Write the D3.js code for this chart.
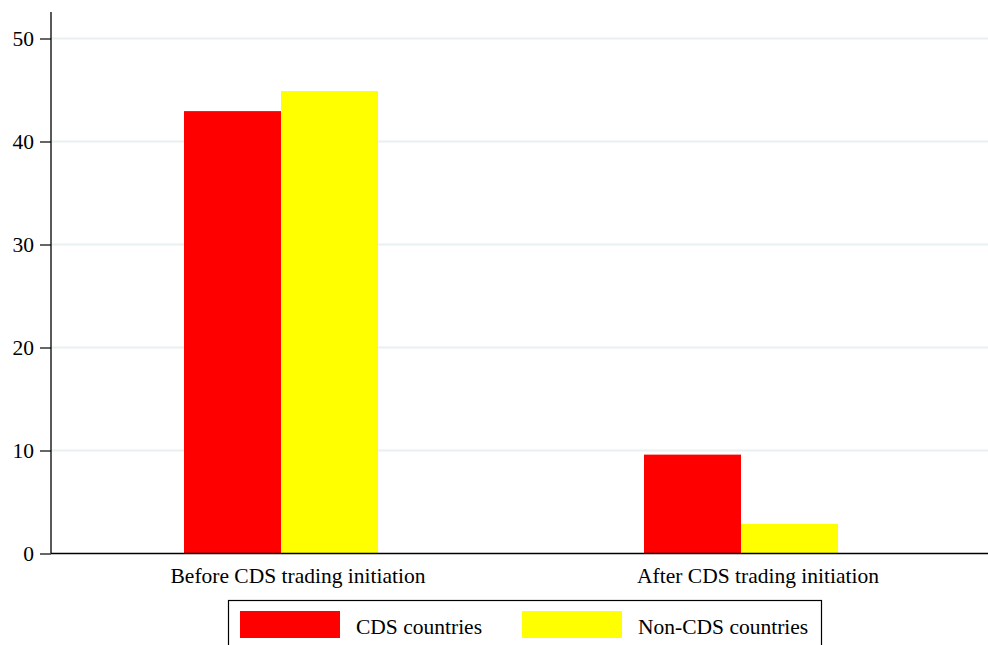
<!DOCTYPE html>
<html>
<head>
<meta charset="utf-8">
<script src="https://cdn.jsdelivr.net/npm/d3@7"></script>
<style>
  body { margin: 0; background: #fff; }
  text { font-family: "Liberation Serif", "Times New Roman", serif; fill: #000; }
</style>
</head>
<body>
<svg id="chart" width="988" height="645"></svg>
<script>
// data
const groups = ["Before CDS trading initiation", "After CDS trading initiation"];
const series = ["CDS countries", "Non-CDS countries"];
const cdsValues = [42.95, 9.6];
const nonCdsValues = [44.9, 2.88];
const yTicks = [0, 10, 20, 30, 40, 50];
const colors = ["#ff0000", "#ffff00"];

const svg = d3.select("svg#chart");
const width = +svg.attr("width");

const plotLeft = 51;
const plotTop = 12;
const plotBottom = 553.5;

const yScale = d3.scaleLinear().domain([0, 50]).range([plotBottom, 38.5]);

const xScale = d3.scaleBand().domain(groups).range([plotLeft, 971]).padding(0);
const xSub = d3
  .scaleBand()
  .domain(series)
  .range([0, xScale.bandwidth()])
  .paddingInner(0)
  .paddingOuter(1.371);

//gridlines
svg
  .append("g")
  .attr("class", "grid")
  .selectAll("line")
  .data(yTicks.filter((d) => d > 0))
  .join("line")
  .attr("x1", plotLeft)
  .attr("x2", width)
  .attr("y1", (d) => yScale(d))
  .attr("y2", (d) => yScale(d))
  .attr("stroke", "#e9f0f2")
  .attr("stroke-width", 2);

//bars
const rows = groups.map((g, i) => ({
  group: g,
  values: [cdsValues[i], nonCdsValues[i]],
}));

const barGroups = svg
  .append("g")
  .selectAll("g")
  .data(rows)
  .join("g")
  .attr("transform", (d) => `translate(${xScale(d.group)},0)`);

barGroups
  .selectAll("rect")
  .data((d) => d.values.map((v, j) => ({ key: series[j], value: v, color: colors[j] })))
  .join("rect")
  .attr("x", (d) => xSub(d.key))
  .attr("width", xSub.bandwidth())
  .attr("y", (d) => yScale(d.value))
  .attr("height", (d) => plotBottom - yScale(d.value))
  .attr("fill", (d) => d.color);

//y axis
const leftAxis = d3
  .axisLeft(yScale)
  .tickValues(yTicks)
  .tickSize(11)
  .tickPadding(6)
  .tickSizeOuter(0);

const yAxisG = svg
  .append("g")
  .attr("class", "y axis")
  .attr("transform", `translate(${plotLeft},0)`)
  .call(leftAxis);
yAxisG.select(".domain").remove();
yAxisG.selectAll(".tick line").attr("stroke", "#000").attr("stroke-width", 1.2);
yAxisG
  .selectAll(".tick text")
  .attr("font-size", "21.5px")
  .attr("font-family", "Liberation Serif, serif")
  .attr("dy", "0.34em");

svg
  .append("line")
  .attr("x1", plotLeft)
  .attr("x2", plotLeft)
  .attr("y1", plotTop)
  .attr("y2", plotBottom)
  .attr("stroke", "#000")
  .attr("stroke-width", 1.3);

//x axis line
svg
  .append("line")
  .attr("x1", plotLeft)
  .attr("x2", width)
  .attr("y1", plotBottom)
  .attr("y2", plotBottom)
  .attr("stroke", "#000")
  .attr("stroke-width", 1.3);

//category labels (Stata puts them a bit right of the bar centre)
svg
  .append("g")
  .selectAll("text")
  .data(groups)
  .join("text")
  .attr("x", (d) => xScale(d) + xScale.bandwidth() / 2 + 17)
  .attr("y", 583)
  .attr("text-anchor", "middle")
  .attr("font-size", "21.5px")
  .text((d) => d);

//legend
const legend = svg.append("g").attr("class", "legend");
legend
  .append("rect")
  .attr("x", 228.5)
  .attr("y", 600.5)
  .attr("width", 593)
  .attr("height", 60)
  .attr("fill", "#fff")
  .attr("stroke", "#000")
  .attr("stroke-width", 1.2);

const legendX = [240, 522];
const legendItems = legend
  .selectAll(".item")
  .data(series)
  .join("g")
  .attr("class", "item")
  .attr("transform", (d, i) => `translate(${legendX[i]},611)`);

legendItems
  .append("rect")
  .attr("width", 100)
  .attr("height", 27)
  .attr("fill", (d, i) => colors[i]);

legendItems
  .append("text")
  .attr("x", 116)
  .attr("y", 23)
  .attr("font-size", "21.5px")
  .text((d) => d);
</script>
</body>
</html>
